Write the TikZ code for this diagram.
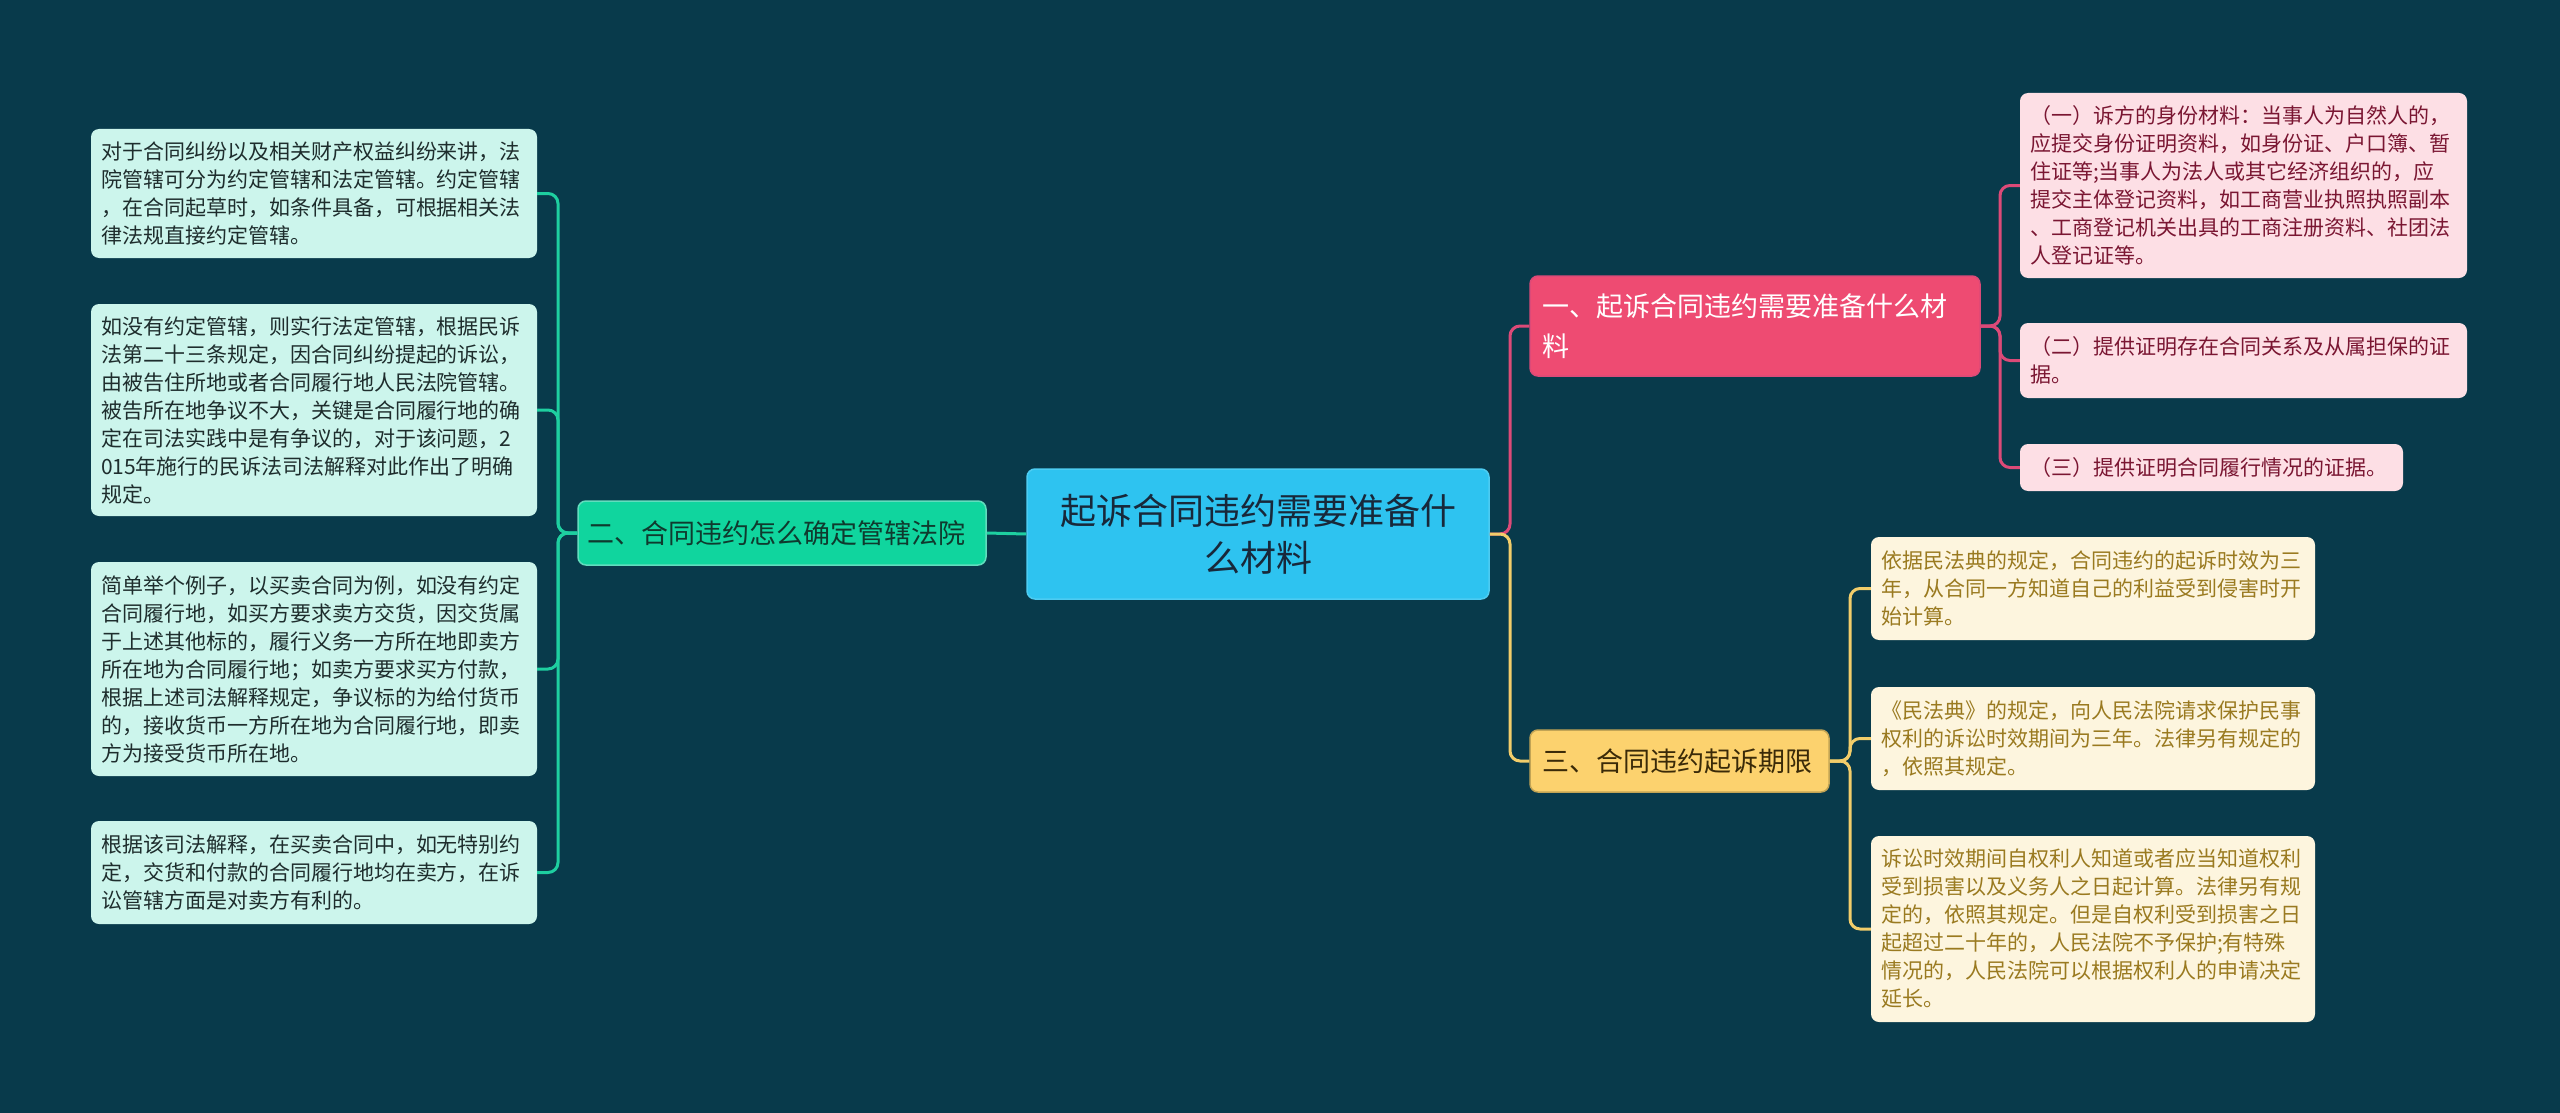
\documentclass[tikz,border=0pt]{standalone}
\usepackage{fontspec}
\setmainfont{Noto Sans CJK SC}
\definecolor{bg}{HTML}{083A4B}
\definecolor{rootfill}{HTML}{2EC3F0}
\definecolor{rootText}{HTML}{18283A}
\definecolor{greenfill}{HTML}{10D59E}
\definecolor{greenText}{HTML}{0F3A2E}
\definecolor{pinkfill}{HTML}{EE4B72}
\definecolor{yellowfill}{HTML}{FCD26E}
\definecolor{yellowText}{HTML}{3A2A08}
\definecolor{mintleaf}{HTML}{CCF5EC}
\definecolor{mintText}{HTML}{1E2D2D}
\definecolor{pinkleaf}{HTML}{FDDFE5}
\definecolor{pinkText}{HTML}{7A1632}
\definecolor{creamleaf}{HTML}{FDF5DE}
\definecolor{creamText}{HTML}{9A7A20}
\definecolor{greenline}{HTML}{1ECFA0}
\definecolor{pinkline}{HTML}{DC4A78}
\definecolor{yellowline}{HTML}{F2CD6A}
\begin{document}
\begin{tikzpicture}[x=1pt,y=-1pt,
  box/.style={rounded corners=8pt, inner sep=0pt, anchor=center},
  rootbox/.style={box, fill=rootfill, draw=rootfill!85!white, line width=1.5pt, text=rootText, align=center,
    font={\fontsize{36}{47}\selectfont}},
  branchbox/.style={box, line width=1.5pt, align=left, font={\fontsize{27}{40}\selectfont}},
  leafbox/.style={box, align=left, font={\fontsize{21}{28}\selectfont}},
  mintbox/.style={leafbox, fill=mintleaf, text=mintText},
  pinkbox/.style={leafbox, fill=pinkleaf, text=pinkText},
  creambox/.style={leafbox, fill=creamleaf, text=creamText},
  conn/.style={line width=3pt, rounded corners=10pt},
]
\fill[bg] (0,0) rectangle (2560,1113);
\useasboundingbox (0,0) rectangle (2560,1113);

% root
\node[rootbox, minimum width=462pt, minimum height=130pt, text width=440pt] (root) at (1258,534)
  {起诉合同违约需要准备什\\么材料};

% branches
\node[branchbox, fill=greenfill, draw=greenline!70!white, text=greenText, minimum width=408pt, minimum height=64pt, text width=390pt] (b2) at (782,533)
  {二、合同违约怎么确定管辖法院};
\node[branchbox, fill=pinkfill, draw=pinkline, text=white, minimum width=450pt, minimum height=100pt, text width=426pt] (b1) at (1755,326)
  {一、起诉合同违约需要准备什么材\\料};
\node[branchbox, fill=yellowfill, draw=yellowline!80!black, text=yellowText, minimum width=299pt, minimum height=62pt, text width=275pt] (b3) at (1679.5,761)
  {三、合同违约起诉期限};

% left leaves
\node[mintbox, minimum width=446pt, minimum height=129pt, text width=426pt] (l1) at (314,193.5)
  {对于合同纠纷以及相关财产权益纠纷来讲，法\\院管辖可分为约定管辖和法定管辖。约定管辖\\，在合同起草时，如条件具备，可根据相关法\\律法规直接约定管辖。};
\node[mintbox, minimum width=446pt, minimum height=212pt, text width=426pt] (l2) at (314,410)
  {如没有约定管辖，则实行法定管辖，根据民诉\\法第二十三条规定，因合同纠纷提起的诉讼，\\由被告住所地或者合同履行地人民法院管辖。\\被告所在地争议不大，关键是合同履行地的确\\定在司法实践中是有争议的，对于该问题，2\\015年施行的民诉法司法解释对此作出了明确\\规定。};
\node[mintbox, minimum width=446pt, minimum height=214pt, text width=426pt] (l3) at (314,669)
  {简单举个例子，以买卖合同为例，如没有约定\\合同履行地，如买方要求卖方交货，因交货属\\于上述其他标的，履行义务一方所在地即卖方\\所在地为合同履行地；如卖方要求买方付款，\\根据上述司法解释规定，争议标的为给付货币\\的，接收货币一方所在地为合同履行地，即卖\\方为接受货币所在地。};
\node[mintbox, minimum width=446pt, minimum height=103pt, text width=426pt] (l4) at (314,872.5)
  {根据该司法解释，在买卖合同中，如无特别约\\定，交货和付款的合同履行地均在卖方，在诉\\讼管辖方面是对卖方有利的。};

% pink leaves
\node[pinkbox, minimum width=447pt, minimum height=185pt, text width=427pt] (p1) at (2243.5,185.5)
  {（一）诉方的身份材料：当事人为自然人的，\\应提交身份证明资料，如身份证、户口簿、暂\\住证等;当事人为法人或其它经济组织的，应\\提交主体登记资料，如工商营业执照执照副本\\、工商登记机关出具的工商注册资料、社团法\\人登记证等。};
\node[pinkbox, minimum width=447pt, minimum height=75pt, text width=427pt] (p2) at (2243.5,360.5)
  {（二）提供证明存在合同关系及从属担保的证\\据。};
\node[pinkbox, minimum width=383pt, minimum height=47pt, text width=363pt] (p3) at (2211.5,467.5)
  {（三）提供证明合同履行情况的证据。};

% yellow leaves
\node[creambox, minimum width=444pt, minimum height=103pt, text width=424pt] (y1) at (2093,588.5)
  {依据民法典的规定，合同违约的起诉时效为三\\年，从合同一方知道自己的利益受到侵害时开\\始计算。};
\node[creambox, minimum width=444pt, minimum height=103pt, text width=424pt] (y2) at (2093,738.5)
  {《民法典》的规定，向人民法院请求保护民事\\权利的诉讼时效期间为三年。法律另有规定的\\，依照其规定。};
\node[creambox, minimum width=444pt, minimum height=186pt, text width=424pt] (y3) at (2093,929)
  {诉讼时效期间自权利人知道或者应当知道权利\\受到损害以及义务人之日起计算。法律另有规\\定的，依照其规定。但是自权利受到损害之日\\起超过二十年的，人民法院不予保护;有特殊\\情况的，人民法院可以根据权利人的申请决定\\延长。};

% spine coordinates
\coordinate (sl) at (558,533);
\coordinate (sr) at (1510,534);
\coordinate (sp) at (2000,326);
\coordinate (sy) at (1850,761);

% connectors
\draw[conn, greenline] (root.west) -- (b2.east);
\foreach \n in {l1,l2,l3,l4} \draw[conn, greenline] (b2.west) -- (sl) |- (\n.east);
\draw[conn, pinkline] (root.east) -- (sr) |- (b1.west);
\draw[conn, yellowline] (root.east) -- (sr) |- (b3.west);
\foreach \n in {p1,p2,p3} \draw[conn, pinkline] (b1.east) -- (sp) |- (\n.west);
\foreach \n in {y1,y2,y3} \draw[conn, yellowline] (b3.east) -- (sy) |- (\n.west);
\end{tikzpicture}
\end{document}
